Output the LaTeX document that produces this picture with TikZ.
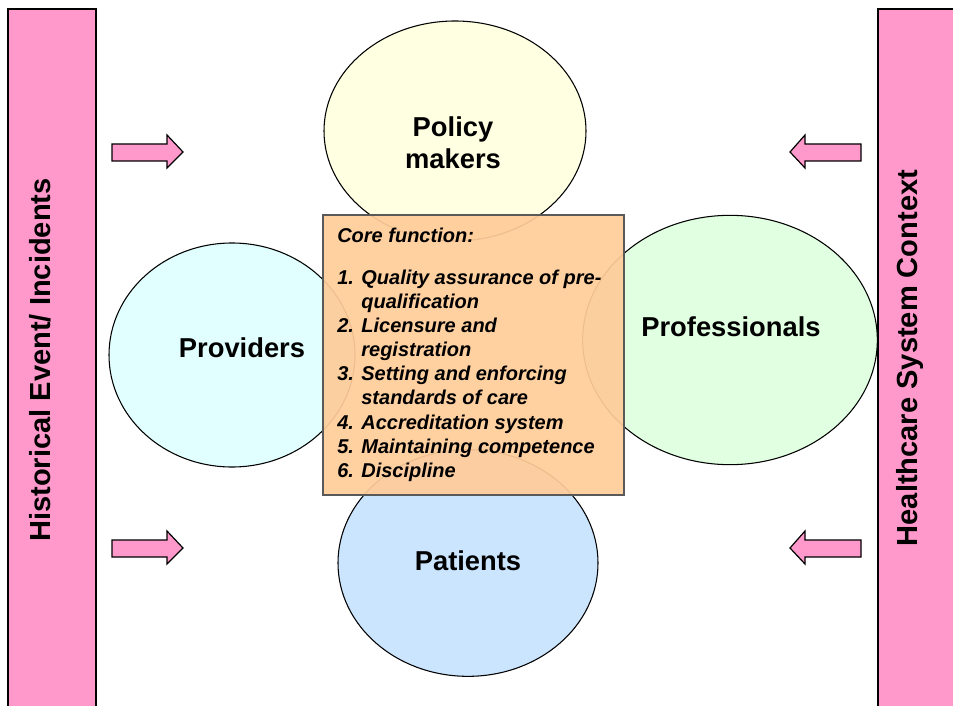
\documentclass[tikz,border=0pt]{standalone}
\usepackage{fontspec}
\setmainfont{Liberation Sans}
\usetikzlibrary{shapes.geometric}
\definecolor{barpink}{HTML}{FF99CC}
\definecolor{polfill}{HTML}{FFFFE1}
\definecolor{provfill}{HTML}{E1FFFF}
\definecolor{proffill}{HTML}{E1FFE1}
\definecolor{patfill}{HTML}{CCE5FF}
\definecolor{boxfill}{HTML}{FFCC99}
\tikzset{
  sidebar/.style={draw=black, line width=0.9pt, fill=barpink},
  sidetext/.style={font=\fontsize{21.8}{26}\selectfont\bfseries, rotate=90},
  pinkarrow/.style={draw=black, line width=0.9pt, fill=barpink, line join=miter},
  actor/.style={ellipse, draw=black, line width=0.8pt, inner sep=0pt},
  actortext/.style={font=\fontsize{20.5}{24}\selectfont\bfseries, align=center},
  corebox/.style={draw=black!65, line width=0.8pt, fill=boxfill, fill opacity=0.93},
}
\begin{document}
\begin{tikzpicture}[x=0.75pt,y=-0.75pt]
\useasboundingbox (0,0) rectangle (953,706);
\clip (0,0) rectangle (953,706);
% side bars
\draw[sidebar] (8,9) rectangle (96,720);
\draw[sidebar] (878,9) rectangle (970,720);
\node[sidetext] (histtext) at (40,360) {Historical Event/ Incidents};
\node[sidetext] (ctxtext) at (910,358) {Healthcare System Context};
% arrows
\draw[pinkarrow] (112,144) -- (167,144) -- (167,135) -- (183,152) -- (167,168) -- (167,161) -- (112,161) -- cycle;
\draw[pinkarrow] (112,540) -- (167,540) -- (167,531) -- (183,548) -- (167,564) -- (167,557) -- (112,557) -- cycle;
\draw[pinkarrow] (861,144) -- (805,144) -- (805,135) -- (790,152) -- (805,168) -- (805,161) -- (861,161) -- cycle;
\draw[pinkarrow] (861,540) -- (805,540) -- (805,531) -- (790,548) -- (805,564) -- (805,557) -- (861,557) -- cycle;
% ellipses
\node[actor, fill=polfill, minimum width=196.5pt, minimum height=165pt] (policy) at (455,131) {};
\node[actor, fill=provfill, minimum width=184.5pt, minimum height=168pt] (providers) at (232,355) {};
\node[actor, fill=proffill, minimum width=221pt, minimum height=187pt] (professionals) at (730,340) {};
\node[actor, fill=patfill, minimum width=195pt, minimum height=170pt] (patients) at (468,563) {};
% labels
\node[actortext] (policytext) at (453,143) {Policy\\makers};
\node[actortext] (providerstext) at (242,348) {Providers};
\node[actortext] (professionalstext) at (731,327) {Professionals};
\node[actortext] (patientstext) at (468,561) {Patients};
% core box
\draw[corebox] (323,215) rectangle (624,495);
\node[anchor=north west, inner sep=0pt, align=left,
      font=\fontsize{15}{18.1}\selectfont\bfseries\itshape] (core) at (337,228) {%
Core function:\\[13pt]
1. Quality assurance of pre-\\
\phantom{1. }qualification\\
2. Licensure and\\
\phantom{2. }registration\\
3. Setting and enforcing\\
\phantom{3. }standards of care\\
4. Accreditation system\\
5. Maintaining competence\\
6. Discipline};
\end{tikzpicture}
\end{document}
